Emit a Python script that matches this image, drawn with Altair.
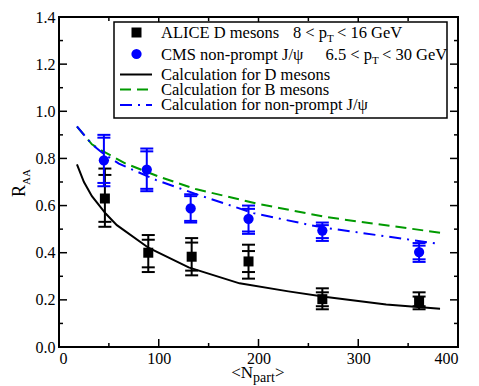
import altair as alt
import pandas as pd

# ---------------- data ----------------
# ALICE D mesons (x = <Npart>, y = RAA, two sets of error caps)
d_x = [46, 89.5, 133, 190, 264, 361]
d_y = [0.630, 0.400, 0.383, 0.363, 0.203, 0.194]
d_hi_out = [0.757, 0.475, 0.462, 0.434, 0.249, 0.232]
d_hi_in = [0.730, 0.455, 0.443, 0.407, 0.232, 0.214]
d_lo_in = [0.531, 0.338, 0.324, 0.318, 0.173, 0.173]
d_lo_out = [0.510, 0.318, 0.304, 0.290, 0.160, 0.160]

# CMS non-prompt J/psi
cms_x = [45, 88, 132, 190, 264, 361]
cms_y = [0.792, 0.753, 0.588, 0.544, 0.494, 0.403]
cms_hi_out = [0.900, 0.842, 0.648, 0.600, 0.528, 0.441]
cms_hi_in = [0.888, 0.830, 0.640, 0.586, 0.517, 0.430]
cms_lo_in = [0.696, 0.671, 0.535, 0.490, 0.462, 0.372]
cms_lo_out = [0.682, 0.661, 0.528, 0.480, 0.450, 0.361]

# model curves
calc_d_x = [18, 25, 33, 47, 58, 90, 130, 181, 230, 268, 328, 382]
calc_d_y = [0.775, 0.700, 0.640, 0.565, 0.517, 0.420, 0.338, 0.270, 0.236, 0.212, 0.180, 0.162]
calc_b_x = [18, 33, 43, 67, 100, 137, 198, 268, 382]
calc_b_y = [0.935, 0.860, 0.833, 0.778, 0.723, 0.670, 0.609, 0.551, 0.485]
calc_j_x = [18, 33, 43, 60, 97, 140, 195, 252, 268, 382]
calc_j_y = [0.936, 0.860, 0.825, 0.778, 0.709, 0.645, 0.568, 0.517, 0.505, 0.437]

x_major = [0, 100, 200, 300, 400]
x_minor = [50, 150, 250, 350]
y_major = [0.0, 0.2, 0.4, 0.6, 0.8, 1.0, 1.2, 1.4]
y_minor = [0.1, 0.3, 0.5, 0.7, 0.9, 1.1, 1.3]

# ---------------- layout ----------------
TOP = 9          # top padding
LEFT = 51        # left padding
W = 399
H = 347 - 8 - TOP   # plot bottom edge at page y = 347 as in the reference
BOTTOM = 386 - 8 - TOP - H
FONT = "Liberation Serif"
BLUE = "#0000ff"
GREEN = "#009a00"
LFS = 16.5  # legend font size


def px(page_x):
    return page_x - 8 - LEFT


def py(page_y):
    return page_y - 8 - TOP


xs = alt.Scale(domain=[0, 400], nice=False, zero=False)
ys = alt.Scale(domain=[0, 1.4], nice=False, zero=False)
x_axis = alt.Axis(values=x_major, format="d", ticks=False, domain=False, grid=False,
                  labelFont=FONT, labelFontSize=16, labelColor="black", labelPadding=3,
                  title=None)
y_axis = alt.Axis(values=y_major, format=".1f", ticks=False, domain=False, grid=False,
                  labelFont=FONT, labelFontSize=16, labelColor="black", labelPadding=4,
                  title=None)


def X(f):
    return alt.X(f, type="quantitative", scale=xs, axis=x_axis)


def Y(f):
    return alt.Y(f, type="quantitative", scale=ys, axis=y_axis)


layers = []

# curves
curves = [
    (calc_d_x, calc_d_y, "black", []),
    (calc_b_x, calc_b_y, GREEN, [11, 6]),
    (calc_j_x, calc_j_y, BLUE, [12, 6, 2, 6]),
]
for cx, cy, col, dash in curves:
    df = pd.DataFrame({"x": cx, "y": cy})
    kw = dict(color=col, strokeWidth=2)
    if dash:
        kw["strokeDash"] = dash
    layers.append(alt.Chart(df).mark_line(**kw).encode(x=X("x"), y=Y("y")))

# error bars + points
series = [
    (d_x, d_y, d_hi_out, d_hi_in, d_lo_in, d_lo_out, "black", "square", 100),
    (cms_x, cms_y, cms_hi_out, cms_hi_in, cms_lo_in, cms_lo_out, BLUE, "circle", 105),
]
for sx, sy, ho, hi, li, lo, col, shape, size in series:
    df = pd.DataFrame({"x": sx, "y": sy, "hi": ho, "lo": lo})
    layers.append(alt.Chart(df).mark_rule(color=col, strokeWidth=2).encode(
        x=X("x"), y=Y("lo"), y2="hi"))
    caps = pd.DataFrame({"x": sx * 4, "c": ho + hi + li + lo})
    layers.append(alt.Chart(caps).mark_tick(color=col, orient="horizontal", size=13,
                                            thickness=2, opacity=1).encode(
        x=X("x"), y=Y("c")))
    layers.append(alt.Chart(df).mark_point(shape=shape, size=size, filled=True,
                                           color=col, opacity=1).encode(x=X("x"), y=Y("y")))

# inward ticks on all four sides
tick_style = dict(color="black", strokeWidth=1.5)
for vals, ln in [(y_major, 8), (y_minor, 4)]:
    df = pd.DataFrame({"v": vals})
    layers.append(alt.Chart(df).mark_rule(**tick_style).encode(
        y=Y("v"), x=alt.value(0), x2=alt.value(ln)))
    layers.append(alt.Chart(df).mark_rule(**tick_style).encode(
        y=Y("v"), x=alt.value(W - ln), x2=alt.value(W)))
for vals, ln in [(x_major, 8), (x_minor, 4)]:
    df = pd.DataFrame({"v": vals})
    layers.append(alt.Chart(df).mark_rule(**tick_style).encode(
        x=X("v"), y=alt.value(H - ln), y2=alt.value(H)))
    layers.append(alt.Chart(df).mark_rule(**tick_style).encode(
        x=X("v"), y=alt.value(0), y2=alt.value(ln)))

base = alt.Chart(pd.DataFrame({"a": [0]}))

# legend box (page coordinates converted to plot coordinates)
layers.append(base.mark_rect(fill="white", stroke="black", strokeWidth=1.5).encode(
    x=alt.value(px(114)), x2=alt.value(px(447)), y=alt.value(py(22)), y2=alt.value(py(118))))
layers.append(base.mark_point(shape="square", size=100, filled=True, color="black",
                              opacity=1).encode(x=alt.value(px(136.5)), y=alt.value(py(32.5))))
layers.append(base.mark_point(shape="circle", size=105, filled=True, color=BLUE,
                              opacity=1).encode(x=alt.value(px(136.5)), y=alt.value(py(54))))
for yy, col, dash in [(74.5, "black", []), (89.5, GREEN, [11, 6]), (105, BLUE, [12, 6, 2, 6])]:
    kw = dict(color=col, strokeWidth=2)
    if dash:
        kw["strokeDash"] = dash
    layers.append(base.mark_rule(**kw).encode(x=alt.value(px(120)), x2=alt.value(px(152)),
                                              y=alt.value(py(yy))))


def txt(s, x, y, size=LFS, align="left", angle=0):
    kw = dict(text=s, font=FONT, fontSize=size, align=align, baseline="alphabetic",
              color="black")
    if angle:
        kw["angle"] = angle
    return base.mark_text(**kw).encode(x=alt.value(px(x)), y=alt.value(py(y)))


# legend texts (page coordinates)
layers += [
    txt("ALICE D mesons", 161, 37.5),
    txt("8 < p", 327, 37.5, align="right"),
    txt("T", 327, 41.5, size=11),
    txt("< 16 GeV", 337, 37.5),
    txt("CMS non-prompt J/ψ", 161, 59.5),
    txt("6.5 < p", 372, 59.5, align="right"),
    txt("T", 372, 63.5, size=11),
    txt("< 30 GeV", 382, 59.5),
    txt("Calculation for D mesons", 161, 79.5),
    txt("Calculation for B mesons", 161, 94.5),
    txt("Calculation for non-prompt J/ψ", 161, 109.5),
]

# axis titles (page coordinates)
layers += [
    txt("R", 25, 197, size=18, angle=270),
    txt("AA", 30, 185, size=11, angle=270),
    txt("<N", 253, 378, size=17, align="right"),
    txt("part", 253, 382, size=14),
    txt(">", 275, 378, size=17),
]

chart = alt.layer(*layers).properties(
    width=W, height=H, autosize="none",
    padding={"left": LEFT, "top": TOP, "right": 13, "bottom": BOTTOM},
).configure_view(stroke="black", strokeWidth=2).configure_axis(
    labelFont=FONT, labelFontSize=16, labelColor="black")

chart.save("out.html", embed_options={"renderer": "svg", "actions": False})
